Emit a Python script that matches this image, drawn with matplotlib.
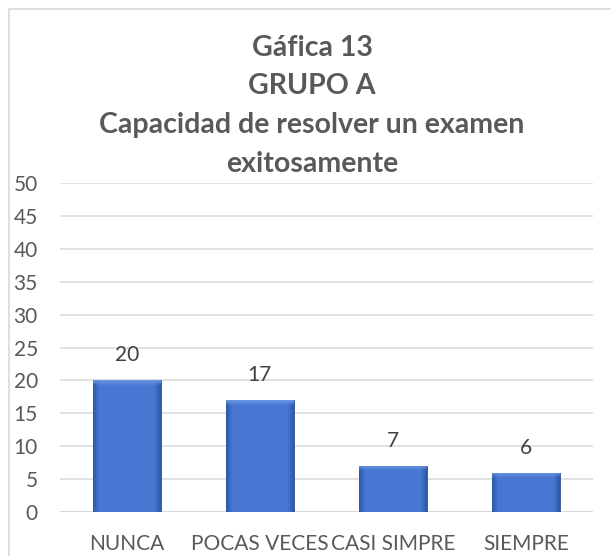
import numpy as np
import matplotlib
matplotlib.use("Agg")
import matplotlib.pyplot as plt
from matplotlib.patches import Rectangle

categories = ["NUNCA", "POCAS VECES", "CASI SIMPRE", "SIEMPRE"]
values = [20, 17, 7, 6]
yticks = list(range(0, 55, 5))
title_lines = ["Gáfica 13", "GRUPO A", "Capacidad de resolver un examen", "exitosamente"]

plt.rcParams["font.family"] = ["Lato", "DejaVu Sans"]

W, H = 611, 556
fig = plt.figure(figsize=(W / 100, H / 100), dpi=100)
ax = fig.add_axes([60 / W, 1 - 512 / H, (593 - 60) / W, (512 - 183) / H])

# chart border (cropped at right/bottom like the source)
fig.patches.append(Rectangle((9 / W, -0.1), 1.2, 1 - 9 / H + 0.1, transform=fig.transFigure,
                             fill=False, edgecolor="#d9d9d9", linewidth=1.2))

x = np.arange(len(categories))
bw = 0.51
bars = ax.bar(x, values, width=bw, color="#4472c4", edgecolor="#2f528f", linewidth=0.6, zorder=3)

# gradient fill to mimic the bevelled Excel bars
dark = np.array([0.18, 0.35, 0.67])
mid = np.array([0.28, 0.47, 0.83])
light = np.array([0.42, 0.59, 0.89])
for b in bars:
    x0, y0 = b.get_x(), b.get_y()
    w, h = b.get_width(), b.get_height()
    nx, ny = 68, 400
    t = np.abs(np.linspace(-1, 1, nx))
    prof = np.clip((t - 0.82) / 0.18, 0, 1)[None, :, None]
    img = mid[None, None, :] * (1 - prof) + dark[None, None, :] * prof
    img = np.repeat(img, ny, axis=0)
    ys = np.linspace(y0 + h, y0, ny)
    depth = np.clip((ys - (y0 + h - 0.8)) / 0.8, 0, 1)[:, None, None]
    img = img * (1 - depth) + light[None, None, :] * depth
    im = ax.imshow(img, extent=(x0, x0 + w, y0, y0 + h), aspect="auto", zorder=3.5,
                   interpolation="bilinear")
    im.set_clip_path(b)
    ax.annotate(str(int(h)), (x0 + w / 2, y0 + h), xytext=(0, 18), textcoords="offset points",
                ha="center", va="center", fontsize=15, color="#404040")

ax.set_xlim(-0.5, len(categories) - 0.5)
ax.set_ylim(0, 50)
ax.set_yticks(yticks)
ax.set_xticks(x)
ax.set_xticklabels(categories)
ax.yaxis.grid(True, color="#d9d9d9", linewidth=1.1, zorder=0)
ax.set_axisbelow(True)
for s in ax.spines.values():
    s.set_visible(False)
ax.tick_params(axis="both", length=0, labelsize=15, labelcolor="#595959")
ax.tick_params(axis="y", pad=16)
ax.tick_params(axis="x", pad=16)
ax.axhline(0, color="#d9d9d9", linewidth=1.3, zorder=1)

for i, line in enumerate(title_lines):
    fig.text(312 / W, 1 - (48 + 38.5 * i) / H, line, ha="center", va="center",
             fontsize=20.5, fontweight="bold", color="#595959")

fig.savefig("out.png", dpi=100)
